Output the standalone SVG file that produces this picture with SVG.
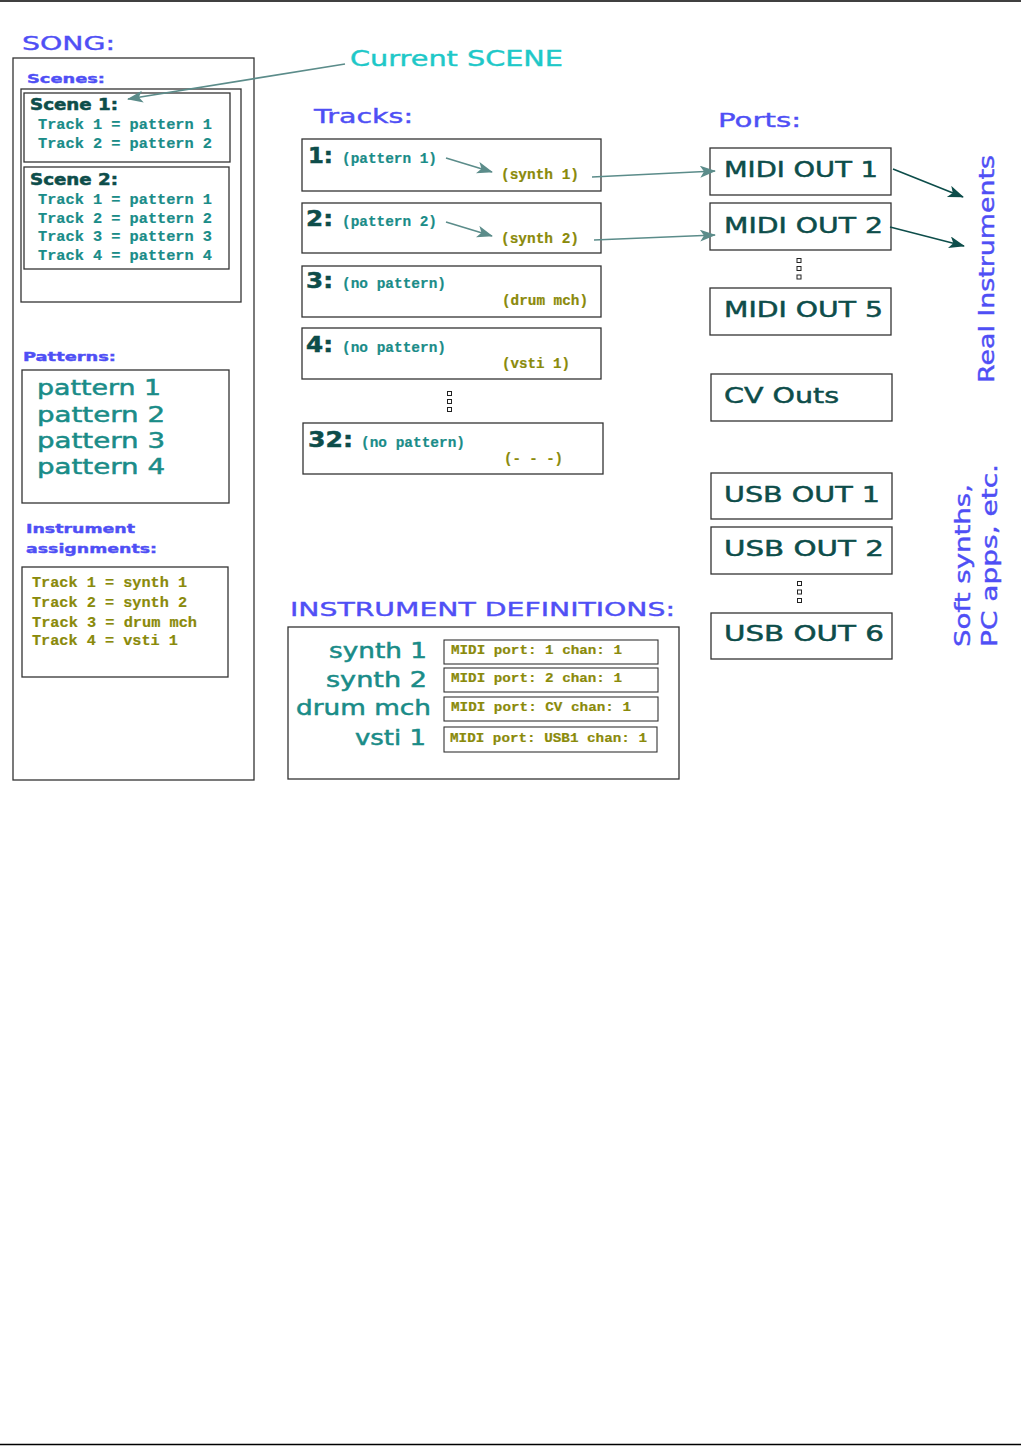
<svg xmlns="http://www.w3.org/2000/svg" width="1021" height="1446" viewBox="0 0 1021 1446">
<style>
.box{fill:#fff;stroke:#333;stroke-width:1.3}
.sm{fill:#fff;stroke:#333;stroke-width:1.1}
.h{font-family:"DejaVu Sans","Liberation Sans",sans-serif;fill:#4f4ff5;stroke:#4f4ff5;stroke-width:0.4}
.dk{font-family:"DejaVu Sans","Liberation Sans",sans-serif;fill:#0d4d4a;stroke:#0d4d4a;stroke-width:0.5}
.tl{font-family:"DejaVu Sans","Liberation Sans",sans-serif;fill:#1a8c88;stroke:#1a8c88;stroke-width:0.5}
.mt{font-family:"Liberation Mono","DejaVu Sans Mono",monospace;font-weight:bold;fill:#1a8c88;stroke:#1a8c88;stroke-width:0.2}
.mo{font-family:"Liberation Mono","DejaVu Sans Mono",monospace;font-weight:bold;fill:#8a8a0a;stroke:#8a8a0a;stroke-width:0.2}
.dot{fill:#fff;stroke:#222;stroke-width:1}
.ga{fill:none;stroke:#5b8c8a;stroke-width:1.6}
.da{fill:none;stroke:#0d4d4a;stroke-width:1.6}
</style>
<defs>
<marker id="ag" markerUnits="userSpaceOnUse" markerWidth="18" markerHeight="14" refX="15" refY="6" orient="auto">
<path d="M0,0 L16,6 L0,12 L4,6 z" fill="#5b8c8a"/>
</marker>
<marker id="ad" markerUnits="userSpaceOnUse" markerWidth="18" markerHeight="14" refX="15" refY="6" orient="auto">
<path d="M0,0 L16,6 L0,12 L4,6 z" fill="#0d4d4a"/>
</marker>
</defs>
<rect width="1021" height="1446" fill="#fff"/>
<line x1="0" y1="1" x2="1021" y2="1" stroke="#000" stroke-width="1.5"/>
<line x1="0" y1="1444.5" x2="1021" y2="1444.5" stroke="#000" stroke-width="1.5"/>

<g id="song">
<text class="h" x="22" y="50" font-size="20" textLength="93" lengthAdjust="spacingAndGlyphs">SONG:</text>
<rect class="box" x="13" y="58" width="241" height="722" stroke="#555"/>
<text class="h" x="27" y="83" font-size="13" font-weight="bold" textLength="78" lengthAdjust="spacingAndGlyphs">Scenes:</text>
<rect class="box" x="21" y="89" width="220" height="213" stroke="#222"/>
</g>
<g id="scene1">
<rect class="box" x="24" y="93" width="206" height="69"/>
<text class="dk" x="30" y="110" font-size="15" font-weight="bold" textLength="88" lengthAdjust="spacingAndGlyphs">Scene 1:</text>
<text class="mt" x="38" y="129" font-size="14" textLength="174" lengthAdjust="spacingAndGlyphs">Track 1 = pattern 1</text>
<text class="mt" x="38" y="148" font-size="14" textLength="174" lengthAdjust="spacingAndGlyphs">Track 2 = pattern 2</text>
</g>
<g id="scene2">
<rect class="box" x="24" y="167" width="205" height="102" stroke="#555"/>
<text class="dk" x="30" y="185" font-size="15" font-weight="bold" textLength="88" lengthAdjust="spacingAndGlyphs">Scene 2:</text>
<text class="mt" x="38" y="204" font-size="14" textLength="174" lengthAdjust="spacingAndGlyphs">Track 1 = pattern 1</text>
<text class="mt" x="38" y="223" font-size="14" textLength="174" lengthAdjust="spacingAndGlyphs">Track 2 = pattern 2</text>
<text class="mt" x="38" y="241" font-size="14" textLength="174" lengthAdjust="spacingAndGlyphs">Track 3 = pattern 3</text>
<text class="mt" x="38" y="260" font-size="14" textLength="174" lengthAdjust="spacingAndGlyphs">Track 4 = pattern 4</text>
</g>
<g id="current-scene">
<text x="350" y="66" font-size="21" font-family="DejaVu Sans,Liberation Sans,sans-serif" fill="#1ec8c8" stroke="#1ec8c8" stroke-width="0.4" textLength="213" lengthAdjust="spacingAndGlyphs">Current SCENE</text>
</g>
<g id="patterns">
<text class="h" x="23" y="361" font-size="13" font-weight="bold" textLength="93" lengthAdjust="spacingAndGlyphs">Patterns:</text>
<rect class="box" x="22" y="370" width="207" height="133"/>
<text class="tl" x="37" y="395" font-size="21" textLength="124" lengthAdjust="spacingAndGlyphs">pattern 1</text>
<text class="tl" x="37" y="422" font-size="21" textLength="128" lengthAdjust="spacingAndGlyphs">pattern 2</text>
<text class="tl" x="37" y="448" font-size="21" textLength="128" lengthAdjust="spacingAndGlyphs">pattern 3</text>
<text class="tl" x="37" y="474" font-size="21" textLength="128" lengthAdjust="spacingAndGlyphs">pattern 4</text>
</g>
<g id="assignments">
<text class="h" x="26" y="533" font-size="13" font-weight="bold" textLength="109" lengthAdjust="spacingAndGlyphs">Instrument</text>
<text class="h" x="26" y="553" font-size="13" font-weight="bold" textLength="131" lengthAdjust="spacingAndGlyphs">assignments:</text>
<rect class="box" x="22" y="567" width="206" height="110" stroke="#222"/>
<text class="mo" x="32" y="587" font-size="15" textLength="155" lengthAdjust="spacingAndGlyphs">Track 1 = synth 1</text>
<text class="mo" x="32" y="607" font-size="15" textLength="155" lengthAdjust="spacingAndGlyphs">Track 2 = synth 2</text>
<text class="mo" x="32" y="627" font-size="15" textLength="165" lengthAdjust="spacingAndGlyphs">Track 3 = drum mch</text>
<text class="mo" x="32" y="645" font-size="15" textLength="146" lengthAdjust="spacingAndGlyphs">Track 4 = vsti 1</text>
</g>

<g id="tracks">
<text class="h" x="314" y="123" font-size="20" textLength="99" lengthAdjust="spacingAndGlyphs">Tracks:</text>
</g>
<g id="track1">
<rect class="box" x="302" y="139" width="299" height="52" stroke="#555"/>
<text class="dk" x="308" y="163" font-size="21" font-weight="bold" textLength="25" lengthAdjust="spacingAndGlyphs">1:</text>
<text class="mt" x="342" y="163" font-size="14" textLength="95" lengthAdjust="spacingAndGlyphs">(pattern 1)</text>
<text class="mo" x="501" y="179" font-size="14" textLength="78" lengthAdjust="spacingAndGlyphs">(synth 1)</text>
</g>
<g id="track2">
<rect class="box" x="302" y="203" width="299" height="50" stroke="#555"/>
<text class="dk" x="306" y="226" font-size="21" font-weight="bold" textLength="27" lengthAdjust="spacingAndGlyphs">2:</text>
<text class="mt" x="342" y="226" font-size="14" textLength="95" lengthAdjust="spacingAndGlyphs">(pattern 2)</text>
<text class="mo" x="501" y="243" font-size="14" textLength="78" lengthAdjust="spacingAndGlyphs">(synth 2)</text>
</g>
<g id="track3">
<rect class="box" x="302" y="266" width="299" height="51"/>
<text class="dk" x="306" y="288" font-size="21" font-weight="bold" textLength="27" lengthAdjust="spacingAndGlyphs">3:</text>
<text class="mt" x="342" y="288" font-size="14" textLength="104" lengthAdjust="spacingAndGlyphs">(no pattern)</text>
<text class="mo" x="502" y="305" font-size="14" textLength="86" lengthAdjust="spacingAndGlyphs">(drum mch)</text>
</g>
<g id="track4">
<rect class="box" x="302" y="328" width="299" height="51"/>
<text class="dk" x="306" y="352" font-size="21" font-weight="bold" textLength="27" lengthAdjust="spacingAndGlyphs">4:</text>
<text class="mt" x="342" y="352" font-size="14" textLength="104" lengthAdjust="spacingAndGlyphs">(no pattern)</text>
<text class="mo" x="502" y="368" font-size="14" textLength="68" lengthAdjust="spacingAndGlyphs">(vsti 1)</text>
</g>
<g id="track-dots">
<rect class="dot" x="447.5" y="391.5" width="4" height="4"/>
<rect class="dot" x="447.5" y="399.5" width="4" height="4"/>
<rect class="dot" x="447.5" y="407.5" width="4" height="4"/>
</g>
<g id="track32">
<rect class="box" x="303" y="423" width="300" height="51"/>
<text class="dk" x="308" y="447" font-size="21" font-weight="bold" textLength="45" lengthAdjust="spacingAndGlyphs">32:</text>
<text class="mt" x="361" y="447" font-size="14" textLength="104" lengthAdjust="spacingAndGlyphs">(no pattern)</text>
<text class="mo" x="504" y="463" font-size="14" textLength="59" lengthAdjust="spacingAndGlyphs">(- - -)</text>
</g>

<g id="ports">
<text class="h" x="718" y="127" font-size="20" textLength="83" lengthAdjust="spacingAndGlyphs">Ports:</text>
</g>
<g id="midi1">
<rect class="box" x="710" y="148" width="181" height="47"/>
<text class="dk" x="724" y="177" font-size="22" textLength="154" lengthAdjust="spacingAndGlyphs">MIDI OUT 1</text>
</g>
<g id="midi2">
<rect class="box" x="710" y="203" width="181" height="47"/>
<text class="dk" x="724" y="233" font-size="22" textLength="159" lengthAdjust="spacingAndGlyphs">MIDI OUT 2</text>
</g>
<g id="midi-dots">
<rect class="dot" x="797" y="258.5" width="4" height="4"/>
<rect class="dot" x="797" y="266.5" width="4" height="4"/>
<rect class="dot" x="797" y="275" width="4" height="4"/>
</g>
<g id="midi5">
<rect class="box" x="710" y="288" width="181" height="47"/>
<text class="dk" x="724" y="317" font-size="22" textLength="159" lengthAdjust="spacingAndGlyphs">MIDI OUT 5</text>
</g>
<g id="cv">
<rect class="box" x="711" y="374" width="181" height="47"/>
<text class="dk" x="724" y="403" font-size="22" textLength="115" lengthAdjust="spacingAndGlyphs">CV Outs</text>
</g>
<g id="usb1">
<rect class="box" x="711" y="473" width="181" height="46" stroke="#555"/>
<text class="dk" x="724" y="502" font-size="22" textLength="156" lengthAdjust="spacingAndGlyphs">USB OUT 1</text>
</g>
<g id="usb2">
<rect class="box" x="711" y="527" width="181" height="47" stroke="#555"/>
<text class="dk" x="724" y="556" font-size="22" textLength="160" lengthAdjust="spacingAndGlyphs">USB OUT 2</text>
</g>
<g id="usb-dots">
<rect class="dot" x="797.5" y="581.5" width="4" height="4"/>
<rect class="dot" x="797.5" y="590" width="4" height="4"/>
<rect class="dot" x="797.5" y="598.5" width="4" height="4"/>
</g>
<g id="usb6">
<rect class="box" x="711" y="613" width="181" height="46" stroke="#555"/>
<text class="dk" x="724" y="641" font-size="22" textLength="160" lengthAdjust="spacingAndGlyphs">USB OUT 6</text>
</g>
<g id="real-instruments">
<text class="h" x="994" y="383" font-size="21" transform="rotate(-90 994 383)" textLength="228" lengthAdjust="spacingAndGlyphs">Real Instruments</text>
</g>
<g id="soft-synths">
<text class="h" x="970" y="647" font-size="21" transform="rotate(-90 970 647)" textLength="163" lengthAdjust="spacingAndGlyphs">Soft synths,</text>
<text class="h" x="997" y="647" font-size="21" transform="rotate(-90 997 647)" textLength="183" lengthAdjust="spacingAndGlyphs">PC apps, etc.</text>
</g>

<g id="instrument-definitions">
<text class="h" x="290" y="616" font-size="20" textLength="385" lengthAdjust="spacingAndGlyphs">INSTRUMENT DEFINITIONS:</text>
<rect class="box" x="288" y="627" width="391" height="152"/>
<text class="tl" x="427" y="658" font-size="21" text-anchor="end" textLength="98" lengthAdjust="spacingAndGlyphs">synth 1</text>
<text class="tl" x="427" y="687" font-size="21" text-anchor="end" textLength="101" lengthAdjust="spacingAndGlyphs">synth 2</text>
<text class="tl" x="431" y="715" font-size="21" text-anchor="end" textLength="135" lengthAdjust="spacingAndGlyphs">drum mch</text>
<text class="tl" x="426" y="745" font-size="21" text-anchor="end" textLength="71" lengthAdjust="spacingAndGlyphs">vsti 1</text>
</g>
<g id="def-synth1">
<rect class="sm" x="444" y="640" width="214" height="24"/>
<text class="mo" x="451" y="654" font-size="13" textLength="171" lengthAdjust="spacingAndGlyphs">MIDI port: 1 chan: 1</text>
</g>
<g id="def-synth2">
<rect class="sm" x="444" y="668" width="214" height="24"/>
<text class="mo" x="451" y="682" font-size="13" textLength="171" lengthAdjust="spacingAndGlyphs">MIDI port: 2 chan: 1</text>
</g>
<g id="def-drum">
<rect class="sm" x="444" y="697" width="214" height="24"/>
<text class="mo" x="451" y="711" font-size="13" textLength="180" lengthAdjust="spacingAndGlyphs">MIDI port: CV chan: 1</text>
</g>
<g id="def-vsti">
<rect class="sm" x="444" y="727" width="213" height="25"/>
<text class="mo" x="450" y="742" font-size="13" textLength="197" lengthAdjust="spacingAndGlyphs">MIDI port: USB1 chan: 1</text>
</g>

<g id="connectors">
<line class="ga" x1="345" y1="64" x2="128" y2="99" marker-end="url(#ag)"/>
<line class="ga" x1="446" y1="158" x2="492" y2="172" marker-end="url(#ag)"/>
<line class="ga" x1="446" y1="222" x2="492" y2="236" marker-end="url(#ag)"/>
<line class="ga" x1="592" y1="177" x2="715" y2="171" marker-end="url(#ag)"/>
<line class="ga" x1="594" y1="240" x2="715" y2="235" marker-end="url(#ag)"/>
<line class="da" x1="893" y1="169" x2="963" y2="197" marker-end="url(#ad)"/>
<line class="da" x1="890" y1="227" x2="964" y2="246" marker-end="url(#ad)"/>
</g>
</svg>
